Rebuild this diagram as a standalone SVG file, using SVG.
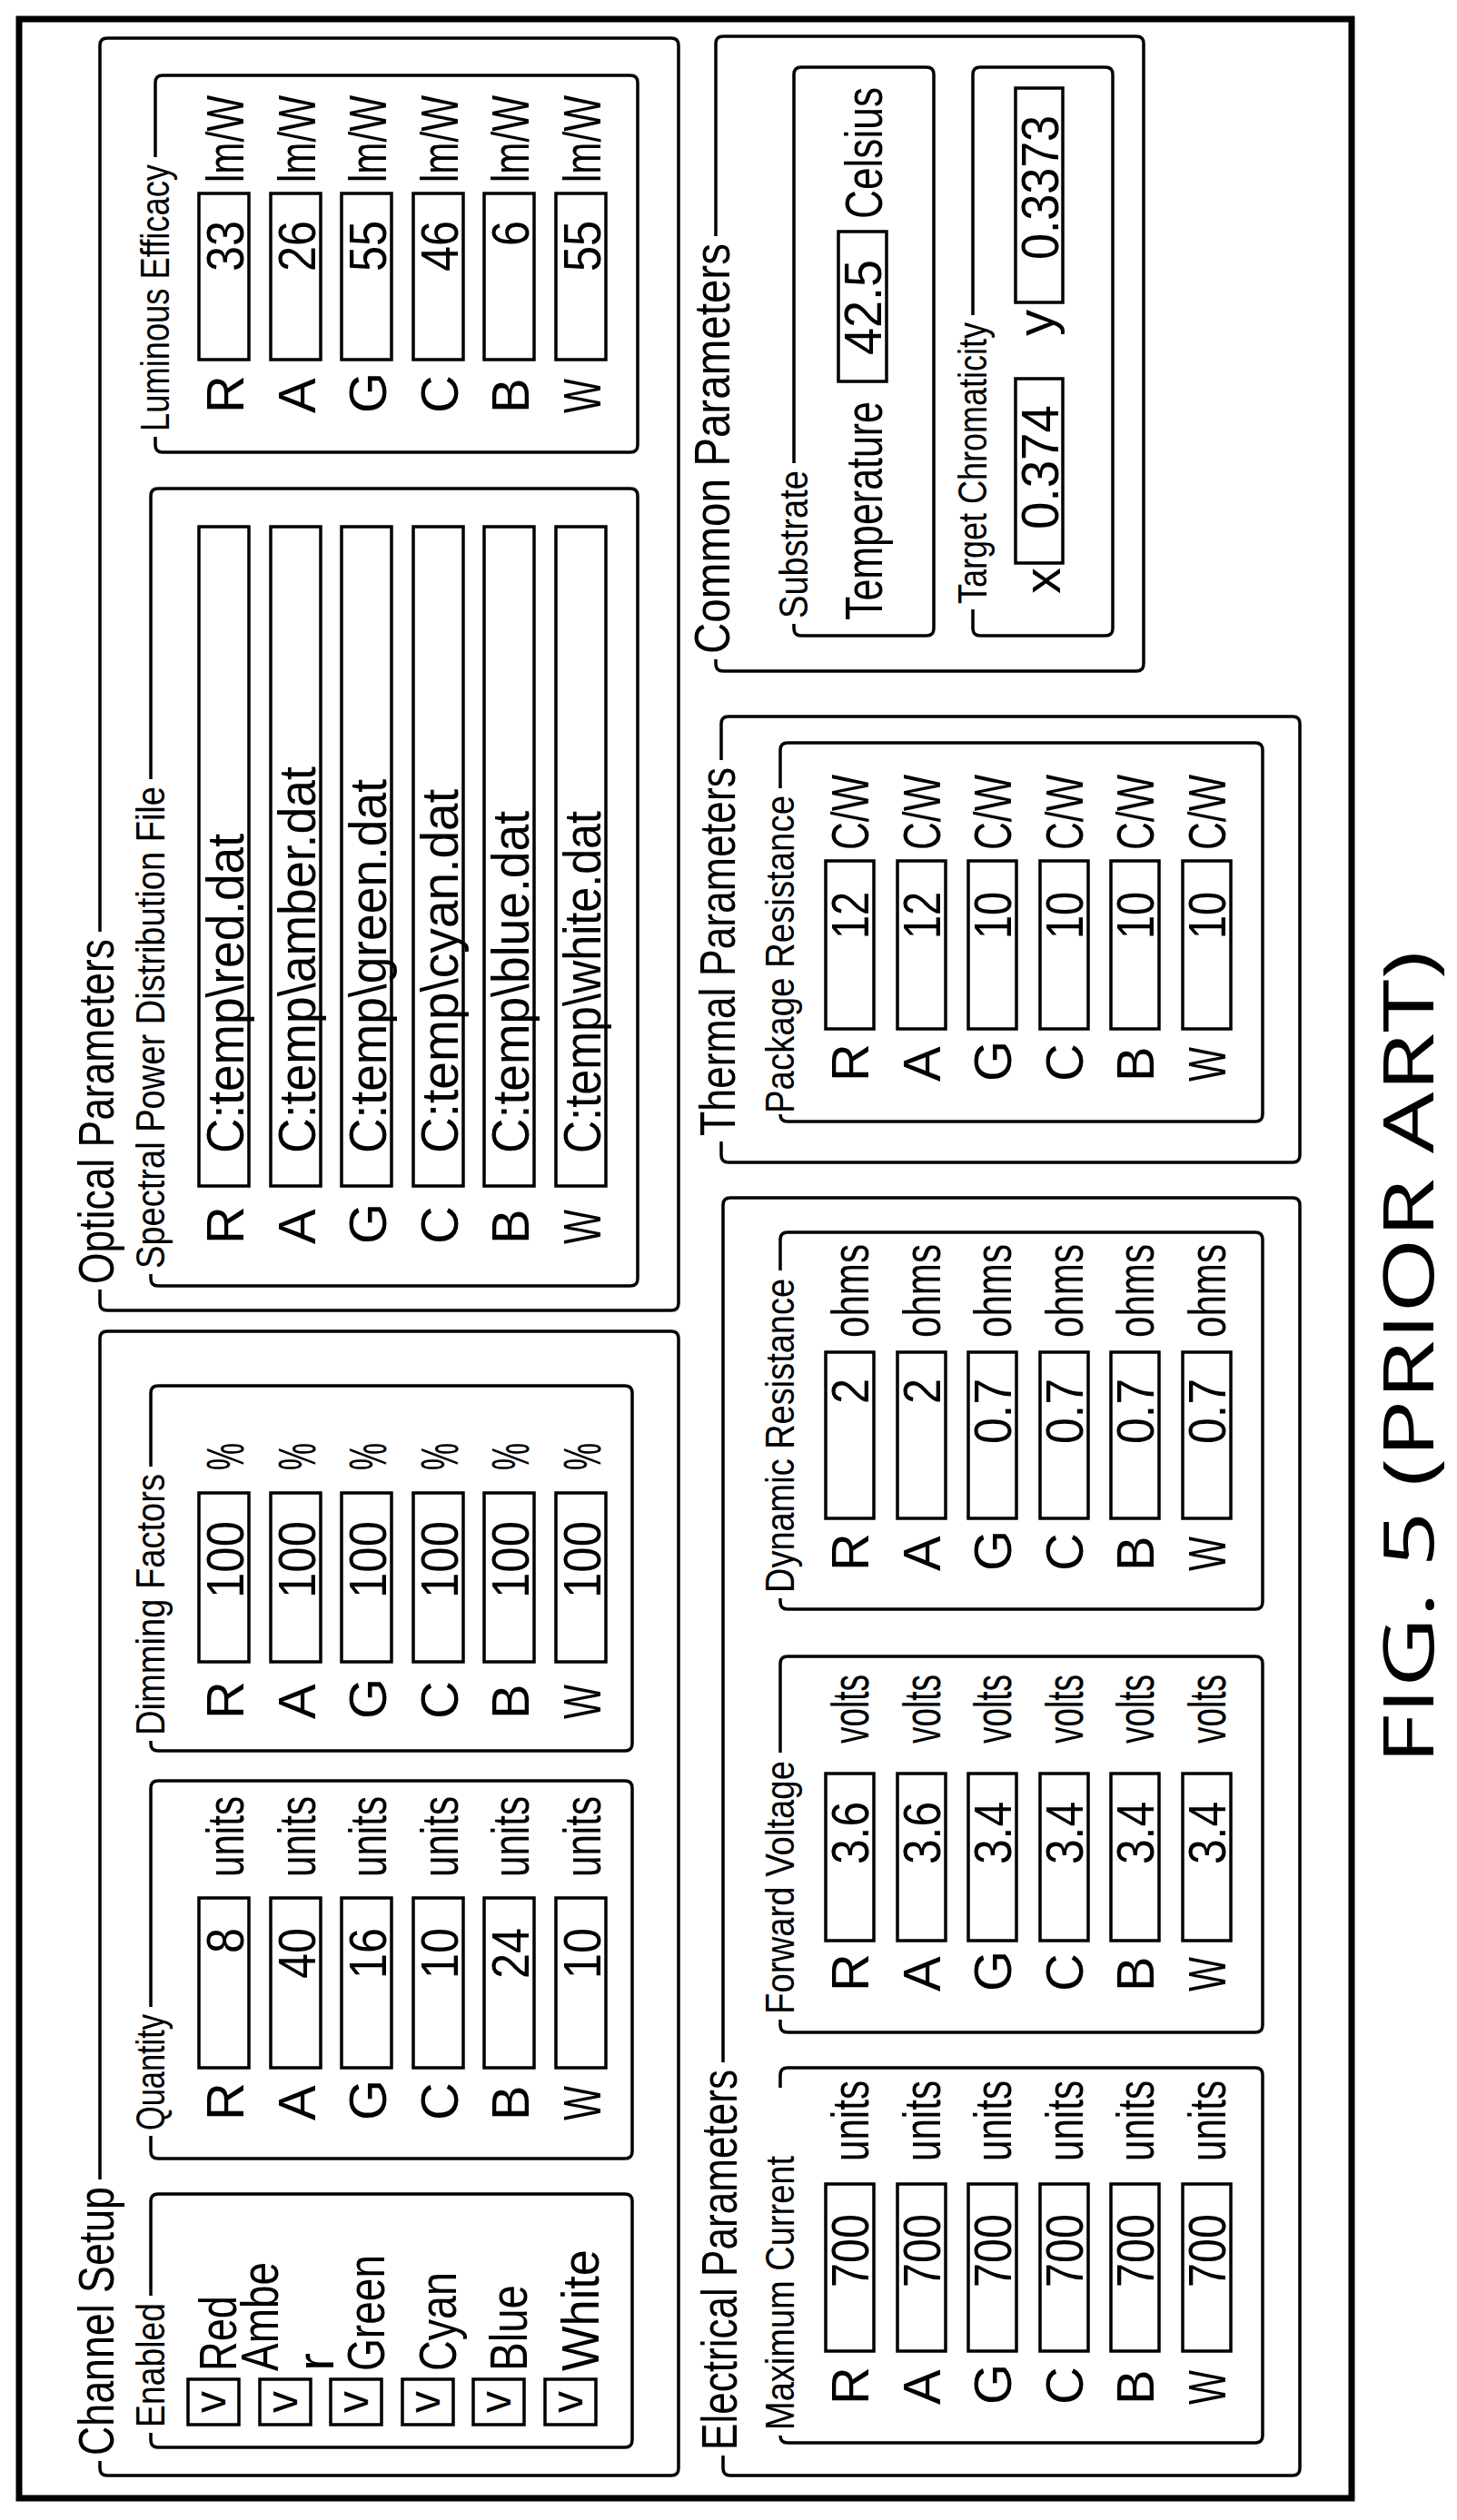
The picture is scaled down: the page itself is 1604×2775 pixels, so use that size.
<svg xmlns="http://www.w3.org/2000/svg" width="1604" height="2775" viewBox="0 0 1604 2775">
<style>
text{font-family:"Liberation Sans",Arial,sans-serif;fill:#000}
.h{font-size:56px}
.s{font-size:44px}
.i{font-size:58px}
.n{font-size:58px;text-anchor:end}
.v{font-size:48px;text-anchor:middle}
.cap{font-family:"Open Sans","Liberation Sans",sans-serif;font-size:76px;text-anchor:middle}
.p{fill:none;stroke:#000;stroke-width:3.5}
.b{fill:none;stroke:#000;stroke-width:3.5}
.f{fill:none;stroke:#000;stroke-width:7}
</style>
<rect width="1604" height="2775" fill="#fff"/>
<g transform="matrix(0 -1 1 0 0 2775)">
<rect class="f" x="24" y="21" width="2730" height="1467"/>
<g id="connectors"></g>

<g id="optical">
<path class="p" d="M1749,110 H2725 Q2733,110 2733,118 V739 Q2733,747 2725,747 H1340 Q1332,747 1332,739 V118 Q1332,110 1340,110 H1355"/>
<text class="h" x="1361" y="125" textLength="380" lengthAdjust="spacingAndGlyphs">Optical Parameters</text>
</g>
<g id="spectral">
<path class="p" d="M1917,166 H2229 Q2237,166 2237,174 V694 Q2237,702 2229,702 H1367 Q1359,702 1359,694 V174 Q1359,166 1367,166 H1372"/>
<text class="s" x="1378" y="181" textLength="531" lengthAdjust="spacingAndGlyphs">Spectral Power Distribution File</text>
<text class="i" x="1405" y="268">R</text><text class="i" x="1405" y="347">A</text><text class="i" x="1405" y="425">G</text><text class="i" x="1405" y="504">C</text><text class="i" x="1405" y="582">B</text><text class="i" x="1405" y="661" textLength="38" lengthAdjust="spacingAndGlyphs">W</text>
<rect class="b" x="1469" y="219" width="726" height="55"/><rect class="b" x="1469" y="298" width="726" height="55"/><rect class="b" x="1469" y="376" width="726" height="55"/><rect class="b" x="1469" y="455" width="726" height="55"/><rect class="b" x="1469" y="533" width="726" height="55"/><rect class="b" x="1469" y="612" width="726" height="55"/>
<text class="i" x="1505" y="268" textLength="352" lengthAdjust="spacingAndGlyphs">C:temp\red.dat</text>
<text class="i" x="1505" y="347" textLength="426" lengthAdjust="spacingAndGlyphs">C:temp\amber.dat</text>
<text class="i" x="1505" y="425" textLength="412" lengthAdjust="spacingAndGlyphs">C:temp\green.dat</text>
<text class="i" x="1505" y="504" textLength="401" lengthAdjust="spacingAndGlyphs">C:temp\cyan.dat</text>
<text class="i" x="1505" y="582" textLength="377" lengthAdjust="spacingAndGlyphs">C:temp\blue.dat</text>
<text class="i" x="1505" y="661" textLength="377" lengthAdjust="spacingAndGlyphs">C:temp\white.dat</text>
</g>
<g id="luminous">
<path class="p" d="M2602,171 H2684 Q2692,171 2692,179 V694 Q2692,702 2684,702 H2285 Q2277,702 2277,694 V179 Q2277,171 2285,171 H2294"/>
<text class="s" x="2300" y="186" textLength="294" lengthAdjust="spacingAndGlyphs">Luminous Efficacy</text>
<text class="i" x="2320" y="268">R</text><text class="i" x="2320" y="347">A</text><text class="i" x="2320" y="425">G</text><text class="i" x="2320" y="504">C</text><text class="i" x="2320" y="582">B</text><text class="i" x="2320" y="661" textLength="38" lengthAdjust="spacingAndGlyphs">W</text>
<rect class="b" x="2379" y="219" width="183" height="55"/><rect class="b" x="2379" y="298" width="183" height="55"/><rect class="b" x="2379" y="376" width="183" height="55"/><rect class="b" x="2379" y="455" width="183" height="55"/><rect class="b" x="2379" y="533" width="183" height="55"/><rect class="b" x="2379" y="612" width="183" height="55"/>
<text class="n" x="2532" y="268" textLength="56" lengthAdjust="spacingAndGlyphs">33</text>
<text class="n" x="2532" y="347" textLength="56" lengthAdjust="spacingAndGlyphs">26</text>
<text class="n" x="2532" y="425" textLength="56" lengthAdjust="spacingAndGlyphs">55</text>
<text class="n" x="2532" y="504" textLength="56" lengthAdjust="spacingAndGlyphs">46</text>
<text class="n" x="2532" y="582" textLength="28" lengthAdjust="spacingAndGlyphs">6</text>
<text class="n" x="2532" y="661" textLength="56" lengthAdjust="spacingAndGlyphs">55</text>
<text class="i" x="2574" y="268" textLength="96" lengthAdjust="spacingAndGlyphs">lm/W</text><text class="i" x="2574" y="347" textLength="96" lengthAdjust="spacingAndGlyphs">lm/W</text><text class="i" x="2574" y="425" textLength="96" lengthAdjust="spacingAndGlyphs">lm/W</text><text class="i" x="2574" y="504" textLength="96" lengthAdjust="spacingAndGlyphs">lm/W</text><text class="i" x="2574" y="582" textLength="96" lengthAdjust="spacingAndGlyphs">lm/W</text><text class="i" x="2574" y="661" textLength="96" lengthAdjust="spacingAndGlyphs">lm/W</text>
</g>

<g id="channel-setup">
<path class="p" d="M375,110 H1301 Q1309,110 1309,118 V739 Q1309,747 1301,747 H57 Q49,747 49,739 V118 Q49,110 57,110 H65"/>
<text class="h" x="71" y="125" textLength="296" lengthAdjust="spacingAndGlyphs">Channel Setup</text>
</g>
<g id="enabled">
<path class="p" d="M247,166 H351 Q359,166 359,174 V688 Q359,696 351,696 H88 Q80,696 80,688 V174 Q80,166 88,166 H96"/>
<text class="s" x="102" y="181" textLength="137" lengthAdjust="spacingAndGlyphs">Enabled</text>
<rect class="b" x="105" y="207" width="50" height="56"/><rect class="b" x="105" y="286" width="50" height="56"/><rect class="b" x="105" y="364" width="50" height="56"/><rect class="b" x="105" y="443" width="50" height="56"/><rect class="b" x="105" y="521" width="50" height="56"/><rect class="b" x="105" y="600" width="50" height="56"/>
<text class="v" x="130" y="248">v</text><text class="v" x="130" y="327">v</text><text class="v" x="130" y="405">v</text><text class="v" x="130" y="484">v</text><text class="v" x="130" y="562">v</text><text class="v" x="130" y="641">v</text>
<text class="i" x="164" y="260" textLength="83" lengthAdjust="spacingAndGlyphs">Red</text>
<text class="i" x="164" y="306" textLength="120" lengthAdjust="spacingAndGlyphs">Ambe</text>
<text class="i" x="164" y="367" textLength="20" lengthAdjust="spacingAndGlyphs">r</text>
<text class="i" x="164" y="423" textLength="128" lengthAdjust="spacingAndGlyphs">Green</text>
<text class="i" x="164" y="502" textLength="109" lengthAdjust="spacingAndGlyphs">Cyan</text>
<text class="i" x="164" y="580" textLength="95" lengthAdjust="spacingAndGlyphs">Blue</text>
<text class="i" x="164" y="659" textLength="134" lengthAdjust="spacingAndGlyphs">White</text>
</g>
<g id="quantity">
<path class="p" d="M565,166 H806 Q814,166 814,174 V688 Q814,696 806,696 H406 Q398,696 398,688 V174 Q398,166 406,166 H423"/>
<text class="s" x="429" y="181" textLength="128" lengthAdjust="spacingAndGlyphs">Quantity</text>
<text class="i" x="440" y="268">R</text><text class="i" x="440" y="347">A</text><text class="i" x="440" y="425">G</text><text class="i" x="440" y="504">C</text><text class="i" x="440" y="582">B</text><text class="i" x="440" y="661" textLength="38" lengthAdjust="spacingAndGlyphs">W</text>
<rect class="b" x="498" y="219" width="187" height="55"/><rect class="b" x="498" y="298" width="187" height="55"/><rect class="b" x="498" y="376" width="187" height="55"/><rect class="b" x="498" y="455" width="187" height="55"/><rect class="b" x="498" y="533" width="187" height="55"/><rect class="b" x="498" y="612" width="187" height="55"/>
<text class="n" x="652" y="268" textLength="28" lengthAdjust="spacingAndGlyphs">8</text>
<text class="n" x="652" y="347" textLength="56" lengthAdjust="spacingAndGlyphs">40</text>
<text class="n" x="652" y="425" textLength="56" lengthAdjust="spacingAndGlyphs">16</text>
<text class="n" x="652" y="504" textLength="56" lengthAdjust="spacingAndGlyphs">10</text>
<text class="n" x="652" y="582" textLength="56" lengthAdjust="spacingAndGlyphs">24</text>
<text class="n" x="652" y="661" textLength="56" lengthAdjust="spacingAndGlyphs">10</text>
<text class="i" x="708" y="268" textLength="89" lengthAdjust="spacingAndGlyphs">units</text><text class="i" x="708" y="347" textLength="89" lengthAdjust="spacingAndGlyphs">units</text><text class="i" x="708" y="425" textLength="89" lengthAdjust="spacingAndGlyphs">units</text><text class="i" x="708" y="504" textLength="89" lengthAdjust="spacingAndGlyphs">units</text><text class="i" x="708" y="582" textLength="89" lengthAdjust="spacingAndGlyphs">units</text><text class="i" x="708" y="661" textLength="89" lengthAdjust="spacingAndGlyphs">units</text>
</g>
<g id="dimming">
<path class="p" d="M1160,166 H1241 Q1249,166 1249,174 V688 Q1249,696 1241,696 H855 Q847,696 847,688 V174 Q847,166 855,166 H858"/>
<text class="s" x="864" y="181" textLength="288" lengthAdjust="spacingAndGlyphs">Dimming Factors</text>
<text class="i" x="882" y="268">R</text><text class="i" x="882" y="347">A</text><text class="i" x="882" y="425">G</text><text class="i" x="882" y="504">C</text><text class="i" x="882" y="582">B</text><text class="i" x="882" y="661" textLength="38" lengthAdjust="spacingAndGlyphs">W</text>
<rect class="b" x="945" y="219" width="186" height="55"/><rect class="b" x="945" y="298" width="186" height="55"/><rect class="b" x="945" y="376" width="186" height="55"/><rect class="b" x="945" y="455" width="186" height="55"/><rect class="b" x="945" y="533" width="186" height="55"/><rect class="b" x="945" y="612" width="186" height="55"/>
<text class="n" x="1100" y="268" textLength="85" lengthAdjust="spacingAndGlyphs">100</text><text class="n" x="1100" y="347" textLength="85" lengthAdjust="spacingAndGlyphs">100</text><text class="n" x="1100" y="425" textLength="85" lengthAdjust="spacingAndGlyphs">100</text><text class="n" x="1100" y="504" textLength="85" lengthAdjust="spacingAndGlyphs">100</text><text class="n" x="1100" y="582" textLength="85" lengthAdjust="spacingAndGlyphs">100</text><text class="n" x="1100" y="661" textLength="85" lengthAdjust="spacingAndGlyphs">100</text>
<text class="i" x="1156" y="268" textLength="30" lengthAdjust="spacingAndGlyphs">%</text><text class="i" x="1156" y="347" textLength="30" lengthAdjust="spacingAndGlyphs">%</text><text class="i" x="1156" y="425" textLength="30" lengthAdjust="spacingAndGlyphs">%</text><text class="i" x="1156" y="504" textLength="30" lengthAdjust="spacingAndGlyphs">%</text><text class="i" x="1156" y="582" textLength="30" lengthAdjust="spacingAndGlyphs">%</text><text class="i" x="1156" y="661" textLength="30" lengthAdjust="spacingAndGlyphs">%</text>
</g>

<g id="electrical">
<path class="p" d="M504,796 H1448 Q1456,796 1456,804 V1423 Q1456,1431 1448,1431 H57 Q49,1431 49,1423 V804 Q49,796 57,796 H71"/>
<text class="h" x="77" y="811" textLength="419" lengthAdjust="spacingAndGlyphs">Electrical Parameters</text>
</g>
<g id="max-current">
<path class="p" d="M476,859 H490 Q498,859 498,867 V1382 Q498,1390 490,1390 H93 Q85,1390 85,1382 V867 Q85,859 93,859"/>
<text class="s" x="99" y="874" textLength="302" lengthAdjust="spacingAndGlyphs">Maximum Current</text>
<text class="i" x="127" y="956">R</text><text class="i" x="127" y="1035">A</text><text class="i" x="127" y="1113">G</text><text class="i" x="127" y="1192">C</text><text class="i" x="127" y="1270">B</text><text class="i" x="127" y="1349" textLength="38" lengthAdjust="spacingAndGlyphs">W</text>
<rect class="b" x="186" y="909" width="184" height="53"/><rect class="b" x="186" y="988" width="184" height="53"/><rect class="b" x="186" y="1066" width="184" height="53"/><rect class="b" x="186" y="1145" width="184" height="53"/><rect class="b" x="186" y="1223" width="184" height="53"/><rect class="b" x="186" y="1302" width="184" height="53"/>
<text class="n" x="337" y="956" textLength="81" lengthAdjust="spacingAndGlyphs">700</text><text class="n" x="337" y="1035" textLength="81" lengthAdjust="spacingAndGlyphs">700</text><text class="n" x="337" y="1113" textLength="81" lengthAdjust="spacingAndGlyphs">700</text><text class="n" x="337" y="1192" textLength="81" lengthAdjust="spacingAndGlyphs">700</text><text class="n" x="337" y="1270" textLength="81" lengthAdjust="spacingAndGlyphs">700</text><text class="n" x="337" y="1349" textLength="81" lengthAdjust="spacingAndGlyphs">700</text>
<text class="i" x="395" y="956" textLength="89" lengthAdjust="spacingAndGlyphs">units</text><text class="i" x="395" y="1035" textLength="89" lengthAdjust="spacingAndGlyphs">units</text><text class="i" x="395" y="1113" textLength="89" lengthAdjust="spacingAndGlyphs">units</text><text class="i" x="395" y="1192" textLength="89" lengthAdjust="spacingAndGlyphs">units</text><text class="i" x="395" y="1270" textLength="89" lengthAdjust="spacingAndGlyphs">units</text><text class="i" x="395" y="1349" textLength="89" lengthAdjust="spacingAndGlyphs">units</text>
</g>
<g id="forward-voltage">
<path class="p" d="M845,859 H943 Q951,859 951,867 V1382 Q951,1390 943,1390 H545 Q537,1390 537,1382 V867 Q537,859 545,859 H551"/>
<text class="s" x="557" y="874" textLength="279" lengthAdjust="spacingAndGlyphs">Forward Voltage</text>
<text class="i" x="582" y="956">R</text><text class="i" x="582" y="1035">A</text><text class="i" x="582" y="1113">G</text><text class="i" x="582" y="1192">C</text><text class="i" x="582" y="1270">B</text><text class="i" x="582" y="1349" textLength="38" lengthAdjust="spacingAndGlyphs">W</text>
<rect class="b" x="638" y="909" width="184" height="53"/><rect class="b" x="638" y="988" width="184" height="53"/><rect class="b" x="638" y="1066" width="184" height="53"/><rect class="b" x="638" y="1145" width="184" height="53"/><rect class="b" x="638" y="1223" width="184" height="53"/><rect class="b" x="638" y="1302" width="184" height="53"/>
<text class="n" x="791" y="956" textLength="69" lengthAdjust="spacingAndGlyphs">3.6</text><text class="n" x="791" y="1035" textLength="69" lengthAdjust="spacingAndGlyphs">3.6</text><text class="n" x="791" y="1113" textLength="69" lengthAdjust="spacingAndGlyphs">3.4</text><text class="n" x="791" y="1192" textLength="69" lengthAdjust="spacingAndGlyphs">3.4</text><text class="n" x="791" y="1270" textLength="69" lengthAdjust="spacingAndGlyphs">3.4</text><text class="n" x="791" y="1349" textLength="69" lengthAdjust="spacingAndGlyphs">3.4</text>
<text class="i" x="855" y="956" textLength="76" lengthAdjust="spacingAndGlyphs">volts</text><text class="i" x="855" y="1035" textLength="76" lengthAdjust="spacingAndGlyphs">volts</text><text class="i" x="855" y="1113" textLength="76" lengthAdjust="spacingAndGlyphs">volts</text><text class="i" x="855" y="1192" textLength="76" lengthAdjust="spacingAndGlyphs">volts</text><text class="i" x="855" y="1270" textLength="76" lengthAdjust="spacingAndGlyphs">volts</text><text class="i" x="855" y="1349" textLength="76" lengthAdjust="spacingAndGlyphs">volts</text>
</g>
<g id="dynamic-resistance">
<path class="p" d="M1376,859 H1410 Q1418,859 1418,867 V1382 Q1418,1390 1410,1390 H1011 Q1003,1390 1003,1382 V867 Q1003,859 1011,859 H1015"/>
<text class="s" x="1021" y="874" textLength="346" lengthAdjust="spacingAndGlyphs">Dynamic Resistance</text>
<text class="i" x="1045" y="956">R</text><text class="i" x="1045" y="1035">A</text><text class="i" x="1045" y="1113">G</text><text class="i" x="1045" y="1192">C</text><text class="i" x="1045" y="1270">B</text><text class="i" x="1045" y="1349" textLength="38" lengthAdjust="spacingAndGlyphs">W</text>
<rect class="b" x="1103" y="909" width="183" height="53"/><rect class="b" x="1103" y="988" width="183" height="53"/><rect class="b" x="1103" y="1066" width="183" height="53"/><rect class="b" x="1103" y="1145" width="183" height="53"/><rect class="b" x="1103" y="1223" width="183" height="53"/><rect class="b" x="1103" y="1302" width="183" height="53"/>
<text class="n" x="1257" y="956" textLength="28" lengthAdjust="spacingAndGlyphs">2</text><text class="n" x="1257" y="1035" textLength="28" lengthAdjust="spacingAndGlyphs">2</text><text class="n" x="1257" y="1113" textLength="72" lengthAdjust="spacingAndGlyphs">0.7</text><text class="n" x="1257" y="1192" textLength="72" lengthAdjust="spacingAndGlyphs">0.7</text><text class="n" x="1257" y="1270" textLength="72" lengthAdjust="spacingAndGlyphs">0.7</text><text class="n" x="1257" y="1349" textLength="72" lengthAdjust="spacingAndGlyphs">0.7</text>
<text class="i" x="1302" y="956" textLength="103" lengthAdjust="spacingAndGlyphs">ohms</text><text class="i" x="1302" y="1035" textLength="103" lengthAdjust="spacingAndGlyphs">ohms</text><text class="i" x="1302" y="1113" textLength="103" lengthAdjust="spacingAndGlyphs">ohms</text><text class="i" x="1302" y="1192" textLength="103" lengthAdjust="spacingAndGlyphs">ohms</text><text class="i" x="1302" y="1270" textLength="103" lengthAdjust="spacingAndGlyphs">ohms</text><text class="i" x="1302" y="1349" textLength="103" lengthAdjust="spacingAndGlyphs">ohms</text>
</g>

<g id="thermal">
<path class="p" d="M1938,794 H1978 Q1986,794 1986,802 V1423 Q1986,1431 1978,1431 H1503 Q1495,1431 1495,1423 V802 Q1495,794 1503,794 H1518"/>
<text class="h" x="1524" y="809" textLength="406" lengthAdjust="spacingAndGlyphs">Thermal Parameters</text>
</g>
<g id="package-resistance">
<path class="p" d="M1907,859 H1949 Q1957,859 1957,867 V1382 Q1957,1390 1949,1390 H1548 Q1540,1390 1540,1382 V867 Q1540,859 1548,859"/>
<text class="s" x="1549" y="874" textLength="350" lengthAdjust="spacingAndGlyphs">Package Resistance</text>
<text class="i" x="1584" y="956">R</text><text class="i" x="1584" y="1035">A</text><text class="i" x="1584" y="1113">G</text><text class="i" x="1584" y="1192">C</text><text class="i" x="1584" y="1270">B</text><text class="i" x="1584" y="1349" textLength="38" lengthAdjust="spacingAndGlyphs">W</text>
<rect class="b" x="1642" y="909" width="185" height="53"/><rect class="b" x="1642" y="988" width="185" height="53"/><rect class="b" x="1642" y="1066" width="185" height="53"/><rect class="b" x="1642" y="1145" width="185" height="53"/><rect class="b" x="1642" y="1223" width="185" height="53"/><rect class="b" x="1642" y="1302" width="185" height="53"/>
<text class="n" x="1793" y="956" textLength="52" lengthAdjust="spacingAndGlyphs">12</text><text class="n" x="1793" y="1035" textLength="52" lengthAdjust="spacingAndGlyphs">12</text><text class="n" x="1793" y="1113" textLength="52" lengthAdjust="spacingAndGlyphs">10</text><text class="n" x="1793" y="1192" textLength="52" lengthAdjust="spacingAndGlyphs">10</text><text class="n" x="1793" y="1270" textLength="52" lengthAdjust="spacingAndGlyphs">10</text><text class="n" x="1793" y="1349" textLength="52" lengthAdjust="spacingAndGlyphs">10</text>
<text class="i" x="1839" y="956" textLength="83" lengthAdjust="spacingAndGlyphs">C/W</text><text class="i" x="1839" y="1035" textLength="83" lengthAdjust="spacingAndGlyphs">C/W</text><text class="i" x="1839" y="1113" textLength="83" lengthAdjust="spacingAndGlyphs">C/W</text><text class="i" x="1839" y="1192" textLength="83" lengthAdjust="spacingAndGlyphs">C/W</text><text class="i" x="1839" y="1270" textLength="83" lengthAdjust="spacingAndGlyphs">C/W</text><text class="i" x="1839" y="1349" textLength="83" lengthAdjust="spacingAndGlyphs">C/W</text>
</g>

<g id="common">
<path class="p" d="M2515,788 H2727 Q2735,788 2735,796 V1251 Q2735,1259 2727,1259 H2044 Q2036,1259 2036,1251 V796 Q2036,788 2044,788 H2049"/>
<text class="h" x="2055" y="803" textLength="452" lengthAdjust="spacingAndGlyphs">Common Parameters</text>
</g>
<g id="substrate">
<path class="p" d="M2265,874 H2693 Q2701,874 2701,882 V1020 Q2701,1028 2693,1028 H2083 Q2075,1028 2075,1020 V882 Q2075,874 2083,874 H2088"/>
<text class="s" x="2094" y="889" textLength="163" lengthAdjust="spacingAndGlyphs">Substrate</text>
<text class="i" x="2092" y="971" textLength="241" lengthAdjust="spacingAndGlyphs">Temperature</text>
<rect class="b" x="2355" y="923" width="165" height="53"/>
<text class="n" x="2489" y="970" textLength="105" lengthAdjust="spacingAndGlyphs">42.5</text>
<text class="i" x="2534" y="971" textLength="145" lengthAdjust="spacingAndGlyphs">Celsius</text>
</g>
<g id="target-chromaticity">
<path class="p" d="M2428,1071 H2693 Q2701,1071 2701,1079 V1217 Q2701,1225 2693,1225 H2083 Q2075,1225 2075,1217 V1079 Q2075,1071 2083,1071 H2104"/>
<text class="s" x="2110" y="1086" textLength="310" lengthAdjust="spacingAndGlyphs">Target Chromaticity</text>
<text class="i" x="2121" y="1167">x</text>
<rect class="b" x="2155" y="1118" width="203" height="52"/>
<text class="n" x="2329" y="1165" textLength="137" lengthAdjust="spacingAndGlyphs">0.374</text>
<text class="i" x="2405" y="1160">y</text>
<rect class="b" x="2442" y="1118" width="236" height="52"/>
<text class="n" x="2648" y="1165" textLength="159" lengthAdjust="spacingAndGlyphs">0.3373</text>
</g>

<text class="cap" x="1280" y="1578" textLength="896" lengthAdjust="spacingAndGlyphs">FIG. 5 (PRIOR ART)</text>
</g>
</svg>
